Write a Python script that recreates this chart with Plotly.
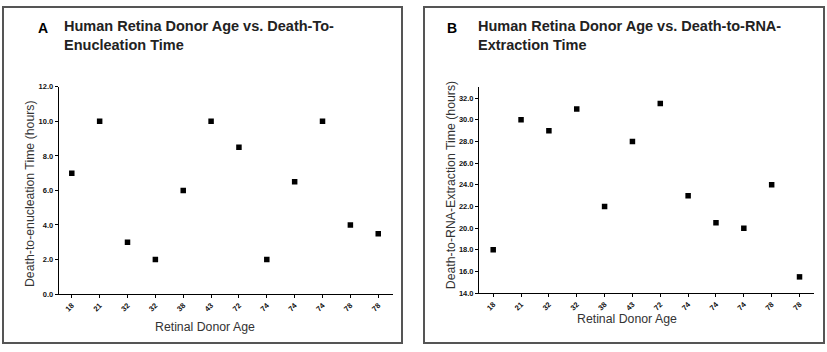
import plotly.graph_objects as go

# ---- data ----
donor_ages = ["18", "21", "32", "32", "38", "43", "72", "74", "74", "74", "78", "78"]
enucleation_hours = [7.0, 10.0, 3.0, 2.0, 6.0, 10.0, 8.5, 2.0, 6.5, 10.0, 4.0, 3.5]
rna_extraction_hours = [18.0, 30.0, 29.0, 31.0, 22.0, 28.0, 31.5, 23.0, 20.5, 20.0, 24.0, 15.5]
yticks_a = [0, 2, 4, 6, 8, 10, 12]
yticks_b = [14, 16, 18, 20, 22, 24, 26, 28, 30, 32]

W, H = 827, 352
idx = list(range(len(donor_ages)))

def px(x):
    return x / W

def py(y):
    return 1 - y / H

fig = go.Figure()
marker = dict(symbol="square", size=5.5, color="black")
fig.add_trace(go.Scatter(x=idx, y=enucleation_hours, mode="markers", marker=marker,
                         xaxis="x", yaxis="y", showlegend=False))
fig.add_trace(go.Scatter(x=idx, y=rna_extraction_hours, mode="markers", marker=marker,
                         xaxis="x2", yaxis="y2", showlegend=False))

tickfont = dict(family="Liberation Sans", size=7.5, color="#111111", weight="bold")
common_x = dict(tickmode="array", tickvals=idx, ticktext=donor_ages, tickangle=-45,
                tickfont=tickfont, showgrid=False, zeroline=False, showline=True,
                linecolor="black", linewidth=1, ticks="outside", ticklen=3,
                tickcolor="black", fixedrange=True)
common_y = dict(tickfont=tickfont, showgrid=False, zeroline=False, showline=True,
                linecolor="black", linewidth=1, ticks="outside", ticklen=3,
                tickcolor="black", tickformat=".1f", fixedrange=True)

fig.update_layout(
    width=W, height=H,
    margin=dict(l=0, r=0, t=0, b=0),
    paper_bgcolor="white", plot_bgcolor="white",
    xaxis=dict(domain=[px(58.7), px(393)], range=[-0.47, 11.53], anchor="y", **common_x),
    yaxis=dict(domain=[py(297.7), py(85)], range=[0, 12], anchor="x",
               tickvals=yticks_a, **common_y),
    xaxis2=dict(domain=[px(479), px(814)], range=[-0.51, 11.52], anchor="y2", **common_x),
    yaxis2=dict(domain=[py(296.7), py(85)], range=[14, 33.05], anchor="x2",
                tickvals=yticks_b, **common_y),
)

border = dict(color="#555555", width=2)
fig.add_shape(type="rect", xref="paper", yref="paper", x0=px(3), x1=px(402),
              y0=py(348), y1=py(3), line=border)
fig.add_shape(type="rect", xref="paper", yref="paper", x0=px(424), x1=px(824),
              y0=py(348), y1=py(3), line=border)

title_font = dict(family="Liberation Sans", size=14.5, color="#222222")
letter_font = dict(family="Liberation Sans", size=14, color="black")
label_font = dict(family="Liberation Sans", size=12.3, color="#333333")

annotations = [
    dict(text="<b>A</b>", x=px(36), y=py(24.5), xanchor="left", yanchor="middle", font=letter_font),
    dict(text="<b>Human Retina Donor Age vs. Death-To-<br>Enucleation Time</b>", x=px(62), y=py(32),
         xanchor="left", yanchor="middle", align="left", font=title_font),
    dict(text="<b>B</b>", x=px(445), y=py(24.5), xanchor="left", yanchor="middle", font=letter_font),
    dict(text="<b>Human Retina Donor Age vs. Death-to-RNA-<br>Extraction Time</b>", x=px(476), y=py(32),
         xanchor="left", yanchor="middle", align="left", font=title_font),
    dict(text="Retinal Donor Age", x=px(205), y=py(331), xanchor="center", yanchor="middle", font=label_font),
    dict(text="Retinal Donor Age", x=px(627), y=py(323), xanchor="center", yanchor="middle", font=label_font),
    dict(text="Death-to-enucleation Time (hours)", x=px(30), y=py(195), textangle=-90,
         xanchor="center", yanchor="middle", font=label_font),
    dict(text="Death-to-RNA-Extraction Time (hours)", x=px(451), y=py(186), textangle=-90,
         xanchor="center", yanchor="middle", font=label_font),
]
for a in annotations:
    a.update(xref="paper", yref="paper", showarrow=False)
fig.update_layout(annotations=annotations)

fig.write_html(
    "out.html",
    config={"displayModeBar": False},
    post_script="document.body.style.margin='0';document.body.style.overflow='hidden';",
)
